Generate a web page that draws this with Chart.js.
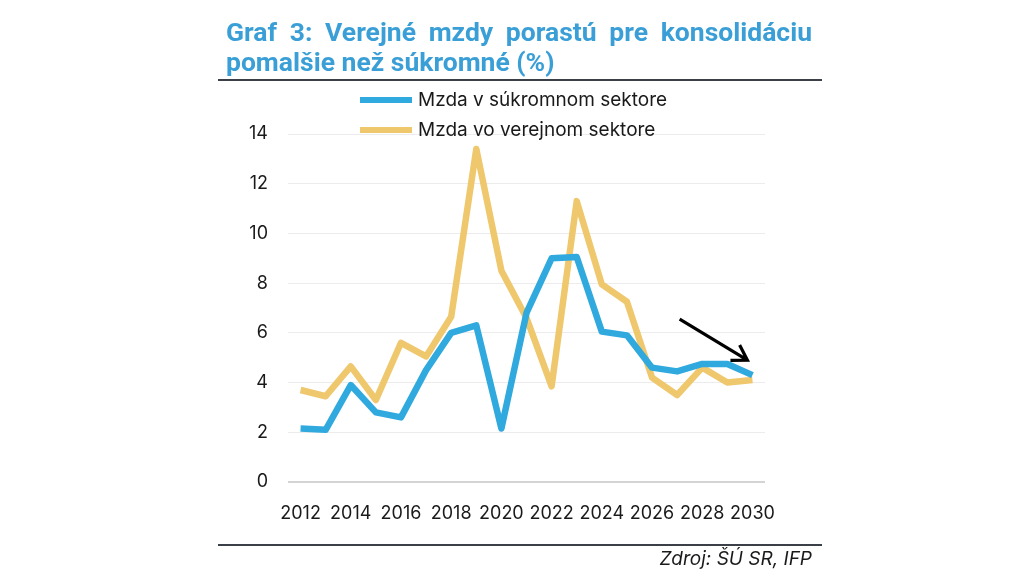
<!DOCTYPE html>
<html>
<head>
<meta charset="utf-8">
<script src="https://cdn.jsdelivr.net/npm/chart.js@4"></script>
<style>
  body { margin: 0; background: #fff; width: 1024px; height: 576px; overflow: hidden; position: relative; font-family: Inter, sans-serif; }
  #chart { position: absolute; left: 0; top: 0; }
  .title { position: absolute; left: 226px; top: 17px; width: 586px; font-family: Roboto, sans-serif; font-weight: bold; font-size: 26.5px; line-height: 30px; color: #3a9fd6; text-align: justify; text-align-last: left; }
  .rule { position: absolute; left: 218px; width: 604px; height: 2px; background: #3a3f48; }
  .legend { position: absolute; left: 360px; font-size: 19px; color: #1a1a1a; display: flex; align-items: center; }
  .legend span.sw { display: inline-block; width: 52px; height: 6px; margin-right: 6px; }
  .source { position: absolute; right: 212px; top: 547px; font-style: italic; font-size: 19px; color: #1a1a1a; }
</style>
</head>
<body>
<canvas id="chart" width="1024" height="576"></canvas>
<div class="title">Graf 3: Verejné mzdy porastú pre konsolidáciu pomalšie než súkromné (%)</div>
<div class="rule" style="top:79px"></div>
<div class="rule" style="top:544px"></div>
<div id="legend"></div>
<div class="source">Zdroj: ŠÚ SR, IFP</div>
<script>
// ---------------------- DATA ------------------------
const years = ["2012", "2013", "2014", "2015", "2016", "2017", "2018", "2019", "2020", "2021",
  "2022", "2023", "2024", "2025", "2026", "2027", "2028", "2029", "2030"];
const privateWages = [2.15, 2.1, 3.9, 2.8, 2.6, 4.5, 6.0, 6.3, 2.15, 6.8,
  9.0, 9.05, 6.05, 5.9, 4.6, 4.45, 4.75, 4.75, 4.3];
const publicWages = [3.7, 3.45, 4.65, 3.3, 5.6, 5.05, 6.65, 13.4, 8.5, 6.6,
  3.85, 11.3, 7.95, 7.25, 4.2, 3.5, 4.6, 4.0, 4.1];
const seriesNames = ["Mzda v súkromnom sektore", "Mzda vo verejnom sektore"];
const seriesColors = ["#30a9de", "#efc76c"];
const yTicks = [0, 2, 4, 6, 8, 10, 12, 14];
// arrow annotation: [year index, value]
const arrowFrom = [15.1, 6.55];
const arrowTo = [17.8, 4.9];

// ---------------------- LEGEND ------------------------
const legendEl = document.getElementById("legend");
seriesNames.forEach((name, i) => {
  const item = document.createElement("div");
  item.className = "legend";
  item.style.top = (88 + i * 30) + "px";
  item.innerHTML = `<span class="sw" style="background:${seriesColors[i]}"></span>${name}`;
  legendEl.appendChild(item);
});

// ---------------------- ARROW PLUGIN ------------------------
const arrowPlugin = {
  id: "arrow",
  afterDatasetsDraw(chart) {
    const { ctx, scales } = chart;
    const x1 = scales.x.getPixelForValue(arrowFrom[0]);
    const y1 = scales.y.getPixelForValue(arrowFrom[1]);
    const x2 = scales.x.getPixelForValue(arrowTo[0]);
    const y2 = scales.y.getPixelForValue(arrowTo[1]);
    const ang = Math.atan2(y2 - y1, x2 - x1);
    ctx.save();
    ctx.strokeStyle = "#000";
    ctx.lineWidth = 3.2;
    ctx.beginPath();
    ctx.moveTo(x1, y1);
    ctx.lineTo(x2, y2);
    ctx.moveTo(x2 - 17 * Math.cos(ang - 0.55), y2 - 17 * Math.sin(ang - 0.55));
    ctx.lineTo(x2, y2);
    ctx.lineTo(x2 - 17 * Math.cos(ang + 0.55), y2 - 17 * Math.sin(ang + 0.55));
    ctx.stroke();
    ctx.restore();
  },
};

// ---------------------- CHART ------------------------
new Chart(document.getElementById("chart"), {
  type: "line",
  data: {
    labels: years,
    datasets: [
      { label: seriesNames[0], data: privateWages, borderColor: seriesColors[0], borderWidth: 6.5, borderJoinStyle: "round", pointRadius: 0, tension: 0 },
      { label: seriesNames[1], data: publicWages, borderColor: seriesColors[1], borderWidth: 6.5, borderJoinStyle: "round", pointRadius: 0, tension: 0 },
    ],
  },
  options: {
    responsive: false,
    animation: false,
    layout: { padding: { left: 0, right: 259, top: 134, bottom: 0 } },
    plugins: { legend: { display: false }, tooltip: { enabled: false } },
    scales: {
      x: {
        offset: true,
        grid: { display: false },
        border: { display: false },
        ticks: {
          autoSkip: false,
          maxRotation: 0,
          padding: 13,
          color: "#1a1a1a",
          font: { family: "Inter", size: 18 },
          callback: (v, i) => (i % 2 === 0 ? years[i] : ""),
        },
        afterFit: (s) => { s.height = 94; },
      },
      y: {
        min: 0,
        max: 14,
        afterBuildTicks: (s) => { s.ticks = yTicks.map((v) => ({ value: v })); },
        grid: {
          drawTicks: false,
          color: (c) => (c.tick.value === 0 ? "#d4d4d4" : "#ececec"),
          lineWidth: (c) => (c.tick.value === 0 ? 2 : 1),
        },
        border: { display: false },
        ticks: { padding: 20, color: "#1a1a1a", font: { family: "Inter", size: 18 } },
        afterFit: (s) => { s.width = 288; },
      },
    },
  },
  plugins: [arrowPlugin],
});
</script>
</body>
</html>
